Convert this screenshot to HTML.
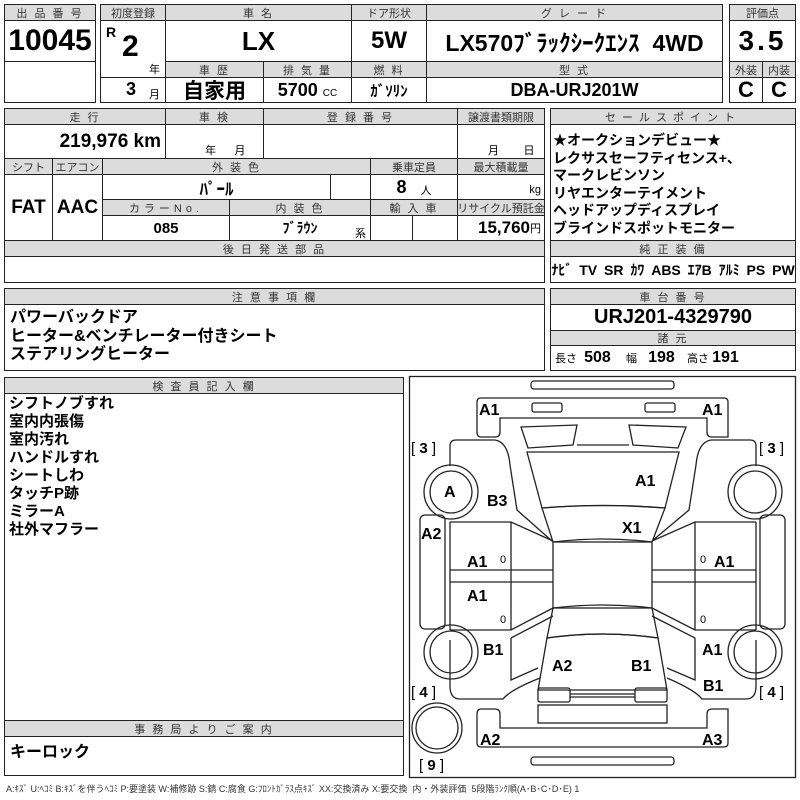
<!DOCTYPE html>
<html><head><meta charset="utf-8"><style>
body{margin:0;width:800px;height:800px;background:#fff;position:relative;overflow:hidden;font-family:"Liberation Sans","Noto Sans CJK JP",sans-serif;color:#000}
.c{position:absolute;border:1px solid #222;box-sizing:border-box;display:flex;align-items:center;justify-content:center;white-space:nowrap}
.h{background:#dcdcdc;font-size:11px;color:#333;letter-spacing:2px}
.b{font-weight:bold}
.t{position:absolute;white-space:nowrap}
.n{font-family:"Liberation Sans Narrow","Liberation Sans","Noto Sans CJK JP",sans-serif;font-weight:bold}
</style></head><body>
<div class="c h" style="left:4px;top:4px;width:92px;height:17px">出 品 番 号</div>
<div class="c n" style="left:4px;top:20px;width:92px;height:42px;font-size:30px">10045</div>
<div class="c" style="left:4px;top:61px;width:92px;height:42px"></div>
<div class="c h" style="left:100px;top:4px;width:66px;height:17px;letter-spacing:0">初度登録</div>
<div class="c h" style="left:165px;top:4px;width:187px;height:17px">車 名</div>
<div class="c h" style="left:351px;top:4px;width:76px;height:17px;letter-spacing:0">ドア形状</div>
<div class="c h" style="left:426px;top:4px;width:297px;height:17px">グ レ ー ド</div>
<div class="c" style="left:100px;top:20px;width:66px;height:58px"></div>
<div class="t n" style="left:106px;top:24px;font-size:14px">R</div>
<div class="t n" style="left:122px;top:30px;font-size:30px">2</div>
<div class="t" style="left:149px;top:61px;font-size:11px">年</div>
<div class="c" style="left:100px;top:77px;width:66px;height:26px"></div>
<div class="t n" style="left:126px;top:79px;font-size:18px">3</div>
<div class="t" style="left:149px;top:86px;font-size:11px">月</div>
<div class="c n" style="left:165px;top:20px;width:187px;height:42px;font-size:26px">LX</div>
<div class="c n" style="left:351px;top:20px;width:76px;height:42px;font-size:24px">5W</div>
<div class="c n" style="left:426px;top:20px;width:297px;height:42px;font-size:23px">LX570ﾌﾞﾗｯｸｼｰｸｴﾝｽ&nbsp;&nbsp;4WD</div>
<div class="c h" style="left:165px;top:61px;width:99px;height:17px">車 歴</div>
<div class="c h" style="left:263px;top:61px;width:89px;height:17px">排 気 量</div>
<div class="c h" style="left:351px;top:61px;width:76px;height:17px">燃 料</div>
<div class="c h" style="left:426px;top:61px;width:297px;height:17px">型 式</div>
<div class="c b" style="left:165px;top:77px;width:99px;height:26px;font-size:21px">自家用</div>
<div class="c" style="left:263px;top:77px;width:89px;height:26px"><span class="n" style="font-size:18px">5700</span><span style="font-size:10px;margin-left:5px;margin-top:6px">CC</span></div>
<div class="c n" style="left:351px;top:77px;width:76px;height:26px;font-size:15px">ｶﾞｿﾘﾝ</div>
<div class="c n" style="left:426px;top:77px;width:297px;height:26px;font-size:18px">DBA-URJ201W</div>
<div class="c h" style="left:729px;top:4px;width:67px;height:17px;letter-spacing:0">評価点</div>
<div class="c n" style="left:729px;top:20px;width:67px;height:42px;font-size:28px;letter-spacing:3px">3.5</div>
<div class="c h" style="left:729px;top:61px;width:34px;height:17px;letter-spacing:0">外装</div>
<div class="c h" style="left:762px;top:61px;width:34px;height:17px;letter-spacing:0">内装</div>
<div class="c n" style="left:729px;top:77px;width:34px;height:26px;font-size:22px">C</div>
<div class="c n" style="left:762px;top:77px;width:34px;height:26px;font-size:22px">C</div>
<div class="c h" style="left:4px;top:108px;width:162px;height:17px">走 行</div>
<div class="c h" style="left:165px;top:108px;width:99px;height:17px">車 検</div>
<div class="c h" style="left:263px;top:108px;width:195px;height:17px">登 録 番 号</div>
<div class="c h" style="left:457px;top:108px;width:88px;height:17px;letter-spacing:0">譲渡書類期限</div>
<div class="c n" style="left:4px;top:124px;width:162px;height:35px;font-size:19px;justify-content:flex-end;padding-right:4px">219,976 km</div>
<div class="c" style="left:165px;top:124px;width:99px;height:35px"></div>
<div class="t" style="left:205px;top:142px;font-size:11px">年&nbsp;&nbsp;&nbsp;&nbsp;&nbsp;&nbsp;月</div>
<div class="c" style="left:263px;top:124px;width:195px;height:35px"></div>
<div class="c" style="left:457px;top:124px;width:88px;height:35px"></div>
<div class="t" style="left:488px;top:142px;font-size:11px">月&nbsp;&nbsp;&nbsp;&nbsp;&nbsp;&nbsp;&nbsp;&nbsp;日</div>
<div class="c h" style="left:4px;top:158px;width:49px;height:17px;letter-spacing:0">シフト</div>
<div class="c h" style="left:52px;top:158px;width:51px;height:17px;letter-spacing:0">エアコン</div>
<div class="c h" style="left:102px;top:158px;width:269px;height:17px">外 装 色</div>
<div class="c h" style="left:370px;top:158px;width:88px;height:17px;letter-spacing:0">乗車定員</div>
<div class="c h" style="left:457px;top:158px;width:88px;height:17px;letter-spacing:0">最大積載量</div>
<div class="c n" style="left:4px;top:174px;width:49px;height:67px;font-size:19px">FAT</div>
<div class="c n" style="left:52px;top:174px;width:51px;height:67px;font-size:19px">AAC</div>
<div class="c n" style="left:102px;top:174px;width:229px;height:26px;font-size:17px">ﾊﾟｰﾙ</div>
<div class="c" style="left:330px;top:174px;width:41px;height:26px"></div>
<div class="c" style="left:370px;top:174px;width:88px;height:26px"><span class="n" style="font-size:18px">8</span><span style="font-size:11px;margin-left:14px;margin-top:6px">人</span></div>
<div class="c" style="left:457px;top:174px;width:88px;height:26px;justify-content:flex-end;padding:6px 3px 0 0;font-size:11px">kg</div>
<div class="c h" style="left:102px;top:199px;width:128px;height:17px;letter-spacing:4px">カラーNo.</div>
<div class="c h" style="left:229px;top:199px;width:142px;height:17px">内 装 色</div>
<div class="c h" style="left:370px;top:199px;width:88px;height:17px">輸 入 車</div>
<div class="c h" style="left:457px;top:199px;width:88px;height:17px;letter-spacing:0">リサイクル預託金</div>
<div class="c n" style="left:102px;top:215px;width:128px;height:26px;font-size:15px">085</div>
<div class="c n" style="left:229px;top:215px;width:142px;height:26px;font-size:14px">ﾌﾞﾗｳﾝ</div>
<div class="t" style="left:355px;top:225px;font-size:11px">系</div>
<div class="c" style="left:370px;top:215px;width:43px;height:26px"></div>
<div class="c" style="left:412px;top:215px;width:46px;height:26px"></div>
<div class="c" style="left:457px;top:215px;width:88px;height:26px;justify-content:flex-end;padding-right:3px"><span class="n" style="font-size:17px">15,760</span><span style="font-size:11px">円</span></div>
<div class="c h" style="left:4px;top:240px;width:541px;height:17px">後 日 発 送 部 品</div>
<div class="c" style="left:4px;top:256px;width:541px;height:27px"></div>
<div class="c h" style="left:550px;top:108px;width:246px;height:17px;letter-spacing:6px">セールスポイント</div>
<div class="c" style="left:550px;top:124px;width:246px;height:117px"></div>
<div class="t b" style="left:553px;top:132px;font-size:14px;line-height:17.6px">★オークションデビュー★<br>レクサスセーフティセンス+、<br>マークレビンソン<br>リヤエンターテイメント<br>ヘッドアップディスプレイ<br>ブラインドスポットモニター</div>
<div class="c h" style="left:550px;top:240px;width:246px;height:17px">純 正 装 備</div>
<div class="c n" style="left:550px;top:256px;width:246px;height:27px;font-size:14px;word-spacing:3px">ﾅﾋﾞ TV SR ｶﾜ ABS ｴｱB ｱﾙﾐ PS PW</div>
<div class="c h" style="left:4px;top:288px;width:541px;height:17px">注 意 事 項 欄</div>
<div class="c" style="left:4px;top:304px;width:541px;height:67px"></div>
<div class="t b" style="left:10px;top:309px;font-size:16px;line-height:18.5px">パワーバックドア<br>ヒーター&amp;ベンチレーター付きシート<br>ステアリングヒーター</div>
<div class="c h" style="left:550px;top:288px;width:246px;height:17px">車 台 番 号</div>
<div class="c n" style="left:550px;top:304px;width:246px;height:27px;font-size:20px">URJ201-4329790</div>
<div class="c h" style="left:550px;top:330px;width:246px;height:16px">諸 元</div>
<div class="c" style="left:550px;top:345px;width:246px;height:26px"></div>
<div class="t" style="left:555px;top:349px;font-size:11px;line-height:18px">長さ&nbsp;<span class="n" style="font-size:16px;margin-left:4px">508</span>&nbsp;&nbsp;&nbsp;&nbsp;&nbsp;幅&nbsp;<span class="n" style="font-size:16px;margin-left:8px">198</span>&nbsp;&nbsp;&nbsp;&nbsp;高さ&nbsp;<span class="n" style="font-size:16px">191</span></div>
<div class="c h" style="left:4px;top:377px;width:400px;height:17px">検 査 員 記 入 欄</div>
<div class="c" style="left:4px;top:393px;width:400px;height:328px"></div>
<div class="t b" style="left:9px;top:395px;font-size:15px;line-height:18px">シフトノブすれ<br>室内内張傷<br>室内汚れ<br>ハンドルすれ<br>シートしわ<br>タッチP跡<br>ミラーA<br>社外マフラー</div>
<div class="c h" style="left:4px;top:720px;width:400px;height:17px">事 務 局 よ り ご 案 内</div>
<div class="c" style="left:4px;top:736px;width:400px;height:40px"></div>
<div class="t b" style="left:10px;top:738px;font-size:16px">キーロック</div>
<div class="t" style="left:6px;top:782px;font-size:9px;color:#333">A:ｷｽﾞ U:ﾍｺﾐ B:ｷｽﾞを伴うﾍｺﾐ P:要塗装 W:補修跡 S:錆 C:腐食 G:ﾌﾛﾝﾄｶﾞﾗｽ点ｷｽﾞ XX:交換済み X:要交換 &nbsp;内・外装評価 &nbsp;5段階ﾗﾝｸ順(A･B･C･D･E) 1</div>
<svg style="position:absolute;left:0;top:0" width="800" height="800" viewBox="0 0 800 800" fill="none" stroke="#222" stroke-width="1.3">
<rect x="409.5" y="376.5" width="386" height="401"/>
<rect x="531" y="381" width="143" height="8" rx="3"/>
<rect x="531" y="757" width="143" height="8" rx="3"/>
<path d="M481 398 H724 Q728 398 728 402 V437 H712 Q707 437 707 432 V418 H500 V432 Q500 437 495 437 H481 Q477 437 477 432 V402 Q477 398 481 398Z"/>
<rect x="532" y="403" width="30" height="9" rx="2"/>
<rect x="645" y="403" width="30" height="9" rx="2"/>
<path d="M521 427 L577 425 L573 445 L528 448Z"/>
<path d="M686 427 L629 425 L633 445 L678 448Z"/>
<path d="M577 445 L629 445"/>
<path d="M527 452 L679 452 L665 508 Q603 503 542 508Z"/>
<path d="M542 508 Q603 503 665 508 L652 542 Q603 536 553 542Z"/>
<rect x="553" y="542" width="99" height="66"/>
<path d="M553 608 Q603 602 652 608 L658 638 Q603 630 547 638Z"/>
<path d="M547 638 Q603 630 658 638 L667 690 L538 690Z"/>
<rect x="538" y="688" width="32" height="14" rx="2"/>
<rect x="635" y="688" width="32" height="14" rx="2"/>
<path d="M570 694 H635 M570 697 H635"/>
<rect x="538" y="705" width="129" height="18"/>
<path d="M481 747 H724 Q728 747 728 743 V709 H712 Q707 709 707 714 V728 H500 V714 Q500 709 495 709 H481 Q477 709 477 714 V743 Q477 747 481 747Z"/>
<path d="M456 440 H495 Q508 442 510 465 L517 510 L552 541"/>
<path d="M450 446 Q450 440 456 440 M450 446 V466"/>
<path d="M450 522 H511 L553 541 M450 570 H553 M450 582 H553 M450 630 H511 L553 608"/>
<path d="M450 522 V630 M511 522 V630"/>
<path d="M450 640 V686 Q450 699 460 699 H503 Q510 690 540 678 M511 638 L553 616 M511 638 V680 L538 668"/>
<rect x="420" y="515" width="25" height="114" rx="5"/>
<path d="M750 440 H711 Q698 442 696 465 L689 510 L652 541"/>
<path d="M756 446 Q756 440 750 440 M756 446 V466"/>
<path d="M756 522 H695 L652 541 M756 570 H652 M756 582 H652 M756 630 H695 L652 608"/>
<path d="M756 522 V630 M695 522 V630"/>
<path d="M756 640 V686 Q756 699 746 699 H702 Q695 690 667 678 M695 638 L652 616 M695 638 V680 L667 668"/>
<rect x="760" y="515" width="25" height="114" rx="5"/>
<circle cx="451" cy="492" r="27"/><circle cx="451" cy="492" r="21"/>
<circle cx="451" cy="652" r="27"/><circle cx="451" cy="652" r="21"/>
<circle cx="755" cy="492" r="27"/><circle cx="755" cy="492" r="21"/>
<circle cx="755" cy="652" r="27"/><circle cx="755" cy="652" r="21"/>
<circle cx="437" cy="728" r="25"/><circle cx="437" cy="728" r="21"/>
<g fill="#000" stroke="none" font-family="Liberation Sans, sans-serif" font-weight="bold" font-size="16">
<text x="479" y="415">A1</text><text x="702" y="415">A1</text>
<text x="444" y="497">A</text><text x="487" y="506">B3</text>
<text x="635" y="486">A1</text><text x="622" y="533">X1</text>
<text x="421" y="539">A2</text>
<text x="467" y="567">A1</text><text x="714" y="567">A1</text>
<text x="467" y="601">A1</text>
<text x="483" y="655">B1</text><text x="702" y="655">A1</text>
<text x="552" y="671">A2</text><text x="631" y="671">B1</text>
<text x="703" y="691">B1</text>
<text x="480" y="745">A2</text><text x="702" y="745">A3</text>
</g>
<g fill="#000" stroke="none" font-family="Liberation Sans, sans-serif" font-size="11">
<text x="500" y="563">0</text><text x="700" y="563">0</text>
<text x="500" y="623">0</text><text x="700" y="623">0</text>
</g>
<g fill="#000" stroke="none" font-family="Liberation Sans, sans-serif" font-size="15">
<text x="411" y="453">[ <tspan font-weight="bold">3</tspan> ]</text>
<text x="759" y="453">[ <tspan font-weight="bold">3</tspan> ]</text>
<text x="411" y="697">[ <tspan font-weight="bold">4</tspan> ]</text>
<text x="759" y="697">[ <tspan font-weight="bold">4</tspan> ]</text>
<text x="419" y="770">[ <tspan font-weight="bold">9</tspan> ]</text>
</g>
</svg>
</body></html>
